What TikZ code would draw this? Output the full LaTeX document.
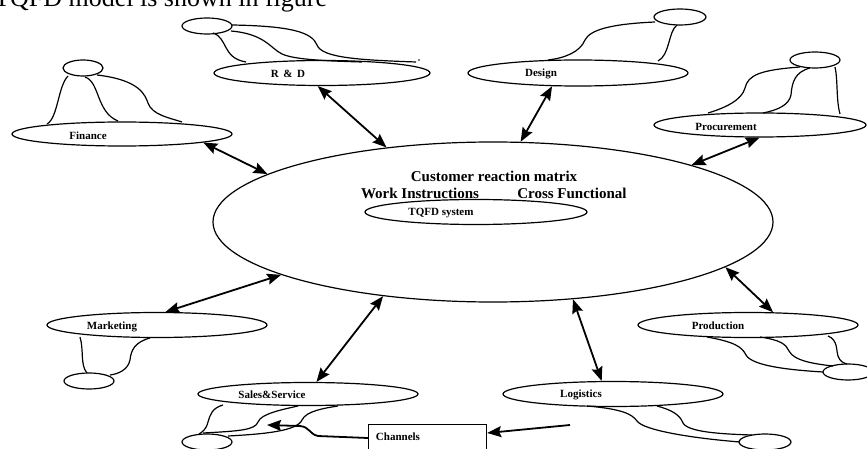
\documentclass[tikz,border=0pt]{standalone}
\usepackage{fontspec}
\setmainfont{Liberation Serif}
\usetikzlibrary{shapes.geometric,arrows.meta,calc}
\begin{document}
\begin{tikzpicture}[x=1pt,y=-1pt,
  ell/.style={ellipse,draw,line width=1.2pt,inner sep=0pt},
  lbl/.style={font=\fontsize{11}{13}\selectfont\bfseries,inner sep=0pt},
  bigtxt/.style={font=\fontsize{15}{17}\selectfont\bfseries,inner sep=0pt},
  wire/.style={line width=1.2pt},
  tip/.tip={Stealth[length=14pt,width=11pt,inset=2pt]},
  dbl/.style={line width=1.8pt,tip-tip},
  one/.style={line width=1.8pt,-tip}
]
\useasboundingbox (0,0) rectangle (867,449);
\clip (0,0) rectangle (867,449);

% top line of text (cut off)
\node[anchor=base west,font=\fontsize{26}{26}\selectfont,inner sep=0pt] (toptext) at (-6,7) {TQFD model is shown in figure};

% main ellipse
\node[ell,minimum width=560,minimum height=160] (main) at (493,222) {};
\node[bigtxt] (crm) at (494,176) {Customer reaction matrix};
\node[bigtxt] (wi) at (420,193) {Work Instructions};
\node[bigtxt] (cf) at (572,193) {Cross Functional};
\node[ell,minimum width=222,minimum height=25] (tqfd) at (476,212) {};
\node[lbl] (tqfdT) at (441,213) {TQFD system};

% Finance
\node[ell,minimum width=220,minimum height=24] (fin) at (122,134) {};
\node[lbl] (finT) at (88,136) {Finance};
\node[ell,minimum width=40,minimum height=16] (fins) at (83,68) {};
\draw[wire] (68,76) .. controls (58,86) and (58,118) .. (47,124);
\draw[wire] (85,77) .. controls (100,82) and (96,112) .. (118,121);
\draw[wire] (97,75) .. controls (140,80) and (145,95) .. (148,103) .. controls (152,115) and (170,118) .. (182,122);

% R & D
\node[ell,minimum width=216,minimum height=25] (rd) at (322,73) {};
\node[lbl] (rdT) at (288,74) {R\,\ \&\ \,D};
\node[ell,minimum width=50,minimum height=16] (rds) at (207,26) {};
\draw[wire] (213,33) .. controls (228,38) and (222,58) .. (246,62);
\draw[wire] (231,31) .. controls (265,34) and (270,48) .. (282,54) .. controls (295,60) and (330,61) .. (362,62);
\draw[wire] (232,25) .. controls (290,26) and (312,32) .. (317,45) .. controls (322,58) and (360,60) .. (416,62);
\fill (419,60) circle (0.8);

% Design
\node[ell,minimum width=220,minimum height=26] (des) at (578,73) {};
\node[lbl] (desT) at (541,74) {Design};
\node[ell,minimum width=52,minimum height=16] (dess) at (680,17) {};
\draw[wire] (655,22) .. controls (610,24) and (590,30) .. (585,40) .. controls (580,52) and (565,58) .. (548,60);
\draw[wire] (677,25) .. controls (668,32) and (670,55) .. (658,61);

% Procurement
\node[ell,minimum width=212,minimum height=24] (proc) at (760,125) {};
\node[lbl] (procT) at (726,127) {Procurement};
\node[ell,minimum width=50,minimum height=16] (procs) at (815,60) {};
\draw[wire] (800,67) .. controls (760,70) and (748,75) .. (745,88) .. controls (742,100) and (725,108) .. (708,113);
\draw[wire] (810,68) .. controls (795,72) and (792,82) .. (791,95) .. controls (789,105) and (778,110) .. (763,113);
\draw[wire] (835,67) .. controls (838,80) and (836,100) .. (840,114);

% Marketing
\node[ell,minimum width=220,minimum height=25] (mkt) at (157,325) {};
\node[lbl] (mktT) at (112,327) {Marketing};
\node[ell,minimum width=50,minimum height=16] (mkts) at (89,381) {};
\draw[wire] (80,337) .. controls (84,350) and (80,365) .. (87,373);
\draw[wire] (150,338) .. controls (135,342) and (131,350) .. (130,360) .. controls (128,370) and (118,374) .. (110,375);

% Sales & Service
\node[ell,minimum width=220,minimum height=23] (sal) at (308,394) {};
\node[lbl] (salT) at (272,395) {Sales\&Service};
\node[ell,minimum width=50,minimum height=16] (sals) at (207,442) {};
\draw[wire] (223,405) .. controls (212,408) and (210,415) .. (208,422) .. controls (206,430) and (202,432) .. (199,434);
\draw[wire] (203,433) .. controls (240,431) and (255,430) .. (258,422) .. controls (261,414) and (280,410) .. (298,406);
\draw[wire] (228,436) .. controls (265,434) and (297,431) .. (302,420) .. controls (306,411) and (325,408) .. (338,406);

% Logistics
\node[ell,minimum width=220,minimum height=25] (log) at (613,394) {};
\node[lbl] (logT) at (581,395) {Logistics};
\node[ell,minimum width=52,minimum height=16] (logs) at (765,442) {};
\draw[wire] (587,406) .. controls (622,409) and (632,414) .. (637,421) .. controls (643,430) and (690,438) .. (740,442);
\draw[wire] (657,406) .. controls (672,410) and (680,415) .. (683,423) .. controls (688,432) and (720,434) .. (752,435);

% Production
\node[ell,minimum width=220,minimum height=25] (prod) at (748,325) {};
\node[lbl] (prodT) at (718,326) {Production};
\node[ell,minimum width=50,minimum height=16] (prods) at (848,372) {};
\draw[wire] (707,337) .. controls (735,342) and (742,347) .. (746,355) .. controls (752,366) and (790,370) .. (823,372);
\draw[wire] (760,337) .. controls (780,340) and (786,344) .. (789,351) .. controls (794,361) and (815,364) .. (833,366);
\draw[wire] (828,336) .. controls (838,340) and (836,350) .. (838,356) .. controls (840,362) and (844,363) .. (847,364);

% Channels
\node[draw,line width=1.2pt,minimum width=118,minimum height=36,anchor=north west,inner sep=0pt] (ch) at (368,424) {};
\node[lbl] (chT) at (398,437) {Channels};
\coordinate (chsrc) at (570,425);
\coordinate (saltip) at (267,425);
\draw[one] (chsrc) -- ($(ch.north east)+(0,9)$);
\draw[one] ($(ch.north west)+(0,14)$) -- (318,436) .. controls (309,434) and (310,427) .. (300,426) -- (saltip);

% double arrows to the system
\draw[dbl] (fin.-6) -- (main.168);
\draw[dbl] (rd.252) -- (main.145);
\draw[dbl] (des.207) -- (main.71);
\draw[dbl] (proc.268) -- (main.16);
\draw[dbl] (mkt.57) -- (main.194);
\draw[dbl] (sal.55) -- (main.214);
\draw[dbl] (log.131) -- (main.-44);
\draw[dbl] (prod.27) -- (main.-11);
\end{tikzpicture}
\end{document}
